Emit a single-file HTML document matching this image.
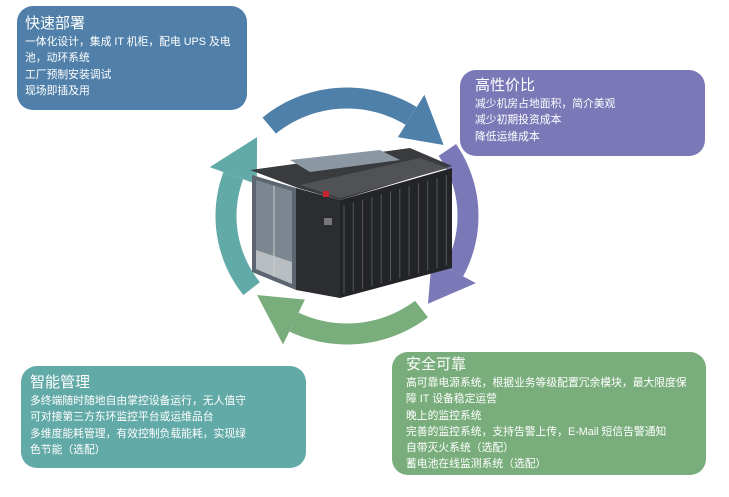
<!DOCTYPE html>
<html><head><meta charset="utf-8"><style>
body{margin:0;width:729px;height:497px;background:#fff;position:relative;overflow:hidden;font-family:"Liberation Sans","Noto Sans CJK SC",sans-serif;color:#fff}
.b{position:absolute;border-radius:16px;box-sizing:border-box}
.t{font-size:15px;line-height:18px;margin-bottom:1px}
.l{font-size:10.8px;line-height:16.3px;white-space:nowrap}
</style></head><body>
<svg id="s" width="729" height="497" style="position:absolute;left:0;top:0">
<g id="arr"></g>
<polygon points="250,170 410,148 452,166 340,200 298,188" fill="#3a3b3e"/>
<polygon points="290,160 380,150 400,160 310,172" fill="#8b98a3"/>
<polygon points="300,185 420,158 448,168 340,198" fill="#505255"/>
<polygon points="252,175 296,188 296,290 252,272" fill="#5d6670"/>
<polygon points="256,180 292,191 292,284 256,269" fill="#7c8690"/>
<polygon points="256,250 292,262 292,284 256,269" fill="#b9bec2"/>
<line x1="274" y1="186" x2="274" y2="277" stroke="#ccc" stroke-width="1"/>
<polygon points="296,188 340,200 340,298 296,290" fill="#2c2d30"/>
<rect x="324" y="218" width="8" height="7" fill="#777"/>
<rect x="323" y="191" width="6" height="6" fill="#c8262c"/>
<polygon points="340,200 452,168 452,268 340,298" fill="#232427"/>
<g id="rk" stroke="#55585c" stroke-width="1"></g>
</svg>
<div class="b" style="left:17px;top:6px;width:230px;height:104px;background:#5080aa;padding:9px 0 0 8px">
<div class="t">快速部署</div>
<div class="l">一体化设计，集成 IT 机柜，配电 UPS 及电<br>池，动环系统<br>工厂预制安装调试<br>现场即插及用</div></div>
<div class="b" style="left:460px;top:70px;width:245px;height:86px;background:#7b78b8;padding:7px 0 0 15px">
<div class="t">高性价比</div>
<div class="l">减少机房占地面积，简介美观<br>减少初期投资成本<br>降低运维成本</div></div>
<div class="b" style="left:21px;top:366px;width:285px;height:102px;background:#62aaa7;padding:8px 0 0 9px">
<div class="t">智能管理</div>
<div class="l">多终端随时随地自由掌控设备运行，无人值守<br>可对接第三方东环监控平台或运维品台<br>多维度能耗管理，有效控制负载能耗，实现绿<br>色节能（选配）</div></div>
<div class="b" style="left:392px;top:352px;width:314px;height:123px;background:#79ae7c;padding:4px 0 0 14px">
<div class="t">安全可靠</div>
<div class="l">高可靠电源系统，根据业务等级配置冗余模块，最大限度保<br>障 IT 设备稳定运营<br>晚上的监控系统<br>完善的监控系统，支持告警上传，E-Mail 短信告警通知<br>自带灭火系统（选配）<br>蓄电池在线监测系统（选配）</div></div>
<script>
var cx=347,cy=216,rx=121,ry=118,w=21,hw=25;
function P(a,r){a=a*Math.PI/180;return [cx+(rx+r)*Math.cos(a),cy+(ry+r)*Math.sin(a)];}
var arcs=[[-130,-58,-37,'#4f80aa'],[-34,28,48,'#7b78b8'],[52,116,138,'#79ae7c'],[142,200,222,'#62aaa7']];
var h='';
arcs.forEach(function(a){
 var p=[],i;
 for(i=a[0];i<=a[1];i+=2)p.push(P(i,w/2));
 for(i=a[1];i>=a[0];i-=2)p.push(P(i,-w/2));
 h+='<polygon fill="'+a[3]+'" points="'+p.map(function(q){return q.join(',')}).join(' ')+'"/>';
 var b1=P(a[1],hw),b2=P(a[1],-hw),t=P(a[2],0);
 h+='<polygon fill="'+a[3]+'" points="'+b1.join(',')+' '+t.join(',')+' '+b2.join(',')+'"/>';
});
document.getElementById('arr').innerHTML=h;
var r='';
for(var k=0;k<12;k++){var x=344+k*9.3,y1=201-k*2.7,y2=297-k*2.6;r+='<line x1="'+x+'" y1="'+(y1+4)+'" x2="'+x+'" y2="'+(y2-3)+'"/>';}
document.getElementById('rk').innerHTML=r;
</script>
</body></html>
